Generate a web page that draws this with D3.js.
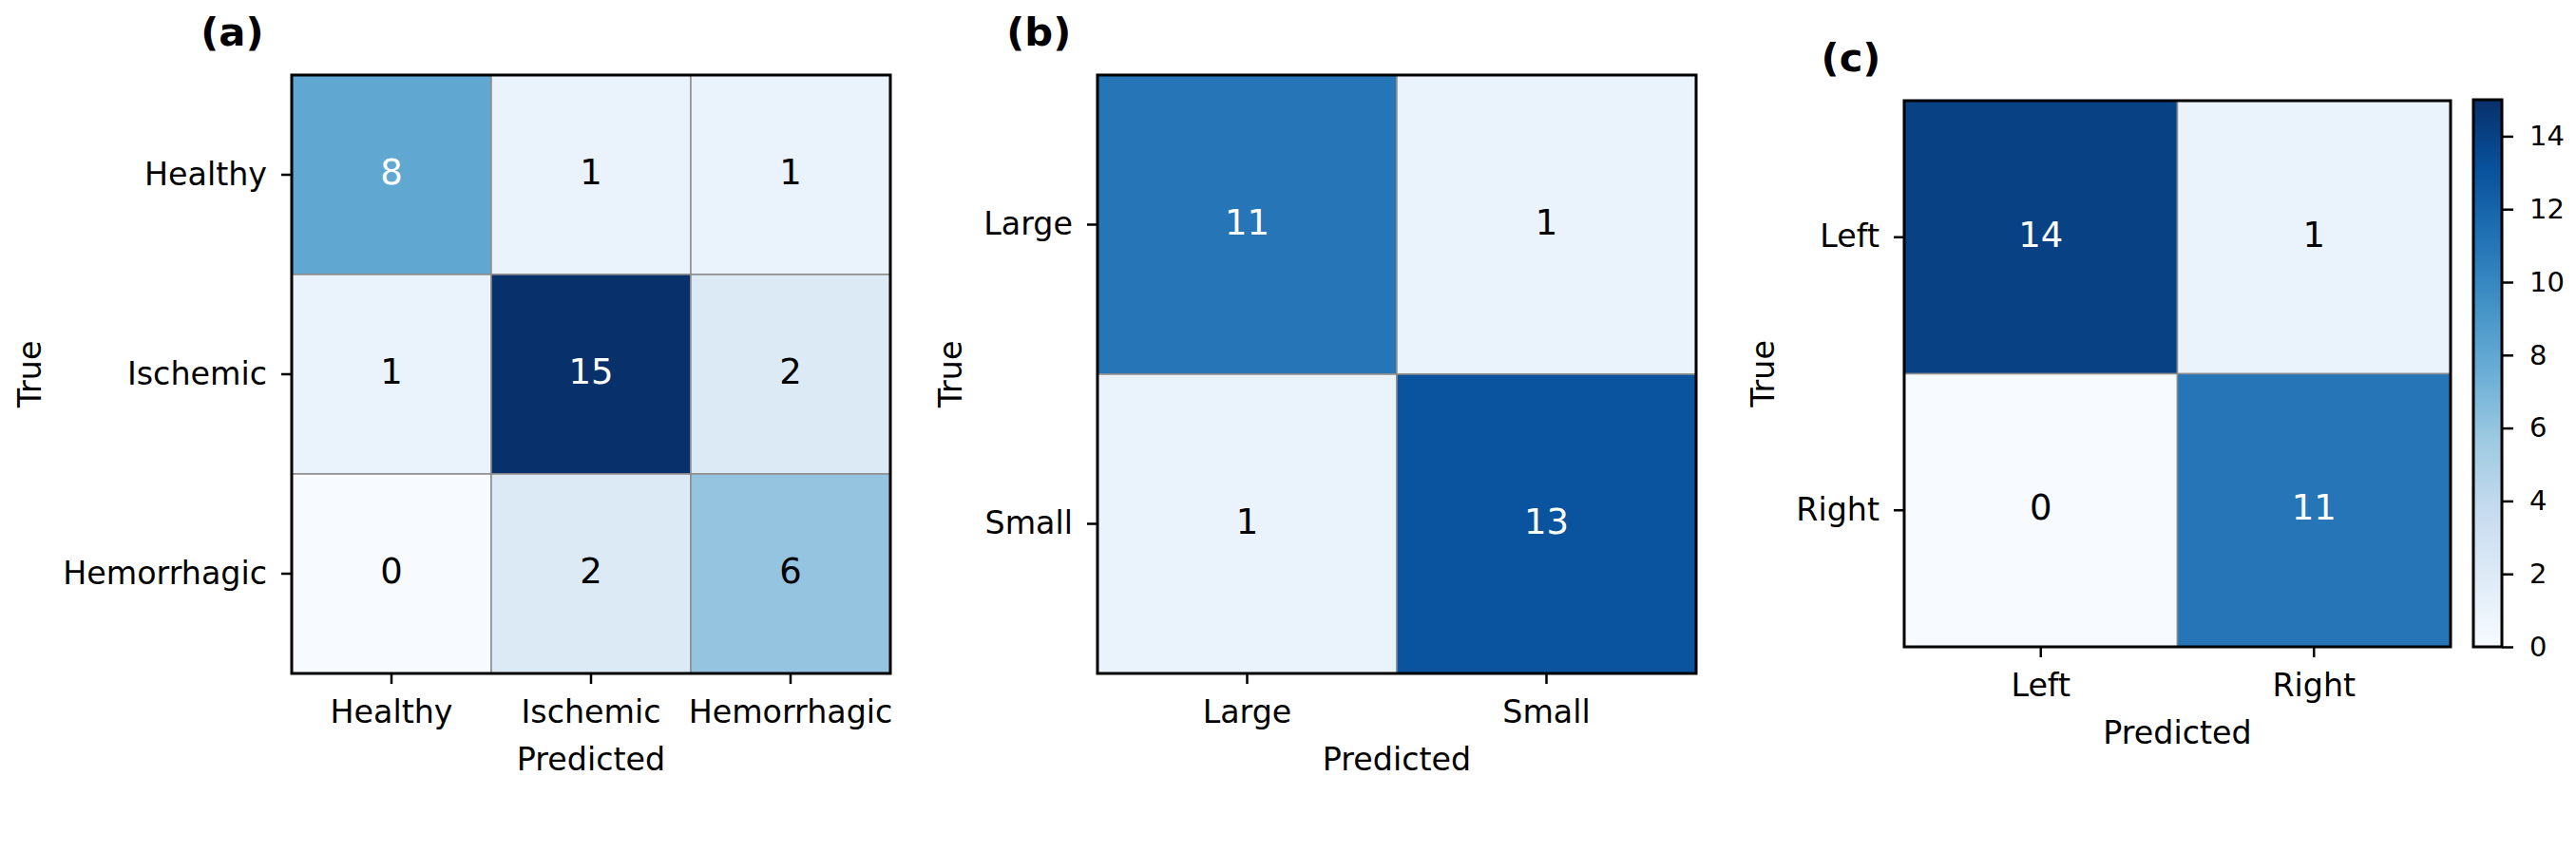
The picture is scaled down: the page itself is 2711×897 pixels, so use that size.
<!DOCTYPE html>
<html lang="en">
<head>
    <meta charset="UTF-8">
    <title>Confusion matrices</title>
    <style>
        body, html {
            margin: 0;
            padding: 0;
            background-color: #ffffff;
        }
        svg {
            display: block;
            font-family: "DejaVu Sans", sans-serif;
        }
    </style>
</head>
<body>
    <script src="https://d3js.org/d3.v7.min.js"></script>
    <script>
        // Data
        var titles = ["(a)", "(b)", "(c)"];

        var labelsA = ["Healthy", "Ischemic", "Hemorrhagic"];
        var matrixA = [[8, 1, 1],
                       [1, 15, 2],
                       [0, 2, 6]];

        var labelsB = ["Large", "Small"];
        var matrixB = [[11, 1],
                       [1, 13]];

        var labelsC = ["Left", "Right"];
        var matrixC = [[14, 1],
                       [0, 11]];

        var colorbarTicks = [0, 2, 4, 6, 8, 10, 12, 14];
        var vmin = 0, vmax = 15;

        // matplotlib "Blues" stops
        var bluesStops = ["#f7fbff", "#deebf7", "#c6dbef", "#9ecae1", "#6baed6",
                          "#4292c6", "#2171b5", "#08519c", "#08306b"];

        var width = 2711,
            height = 897;

        var svg = d3.select("body").append("svg")
            .attr("width", width)
            .attr("height", height);

        svg.append("rect")
            .attr("width", width)
            .attr("height", height)
            .attr("fill", "#ffffff");

        // colour scale, piecewise linear like matplotlib
        var color = d3.scaleLinear()
            .domain(bluesStops.map(function(d, i) { return vmin + (vmax - vmin) * i / (bluesStops.length - 1); }))
            .range(bluesStops)
            .interpolate(d3.interpolateRgb)
            .clamp(true);

        var threshold = (vmin + vmax) / 2;

        var panels = [
            { title: titles[0], labels: labelsA, matrix: matrixA, left: 307, top: 79, size: 630 },
            { title: titles[1], labels: labelsB, matrix: matrixB, left: 1155, top: 79, size: 630 },
            { title: titles[2], labels: labelsC, matrix: matrixC, left: 2004, top: 106, size: 575 }
        ];

        panels.forEach(function(p) {
            var g = svg.append("g")
                .attr("transform", "translate(" + p.left + "," + p.top + ")");

            var x = d3.scaleBand().domain(p.labels).range([0, p.size]);
            var y = d3.scaleBand().domain(p.labels).range([0, p.size]);

            var cells = [];
            p.matrix.forEach(function(row, i) {
                row.forEach(function(v, j) {
                    cells.push({ t: p.labels[i], pr: p.labels[j], v: v });
                });
            });

            g.selectAll("rect.cell")
                .data(cells)
                .enter()
                .append("rect")
                .attr("class", "cell")
                .attr("x", function(d) { return x(d.pr); })
                .attr("y", function(d) { return y(d.t); })
                .attr("width", x.bandwidth())
                .attr("height", y.bandwidth())
                .attr("fill", function(d) { return color(d.v); })
                .attr("stroke", "#8c8c8c")
                .attr("stroke-width", 1.5);

            g.selectAll("text.annot")
                .data(cells)
                .enter()
                .append("text")
                .attr("class", "annot")
                .attr("x", function(d) { return x(d.pr) + x.bandwidth() / 2; })
                .attr("y", function(d) { return y(d.t) + y.bandwidth() / 2 + 10; })
                .attr("text-anchor", "middle")
                .attr("font-size", 37)
                .attr("fill", function(d) { return d.v > threshold ? "#ffffff" : "#000000"; })
                .text(function(d) { return d.v; });

            // frame
            g.append("rect")
                .attr("width", p.size)
                .attr("height", p.size)
                .attr("fill", "none")
                .attr("stroke", "#000000")
                .attr("stroke-width", 3);

            // axes
            var xAxis = g.append("g")
                .attr("transform", "translate(0," + p.size + ")")
                .call(d3.axisBottom(x).tickSize(11).tickPadding(17));
            var yAxis = g.append("g")
                .call(d3.axisLeft(y).tickSize(11).tickPadding(15));

            [xAxis, yAxis].forEach(function(ax) {
                ax.select(".domain").remove();
                ax.selectAll(".tick line").attr("stroke", "#000").attr("stroke-width", 2.5);
                ax.selectAll(".tick text")
                    .attr("font-size", 33.3)
                    .attr("font-family", "DejaVu Sans, sans-serif")
                    .attr("fill", "#000");
            });

            g.append("text")
                .attr("x", p.size / 2)
                .attr("y", p.size + 102)
                .attr("text-anchor", "middle")
                .attr("font-size", 33.3)
                .text("Predicted");

            // ylabel placed left of the widest tick label
            var minX = 0;
            yAxis.selectAll(".tick text").each(function() {
                var b = this.getBBox();
                minX = Math.min(minX, b.x);
            });
            g.append("text")
                .attr("transform", "translate(" + (minX - 23) + "," + (p.size / 2) + ") rotate(-90)")
                .attr("text-anchor", "middle")
                .attr("font-size", 33.3)
                .text("True");

            g.append("text")
                .attr("x", -0.152 * p.size)
                .attr("y", -31)
                .attr("font-size", 41.7)
                .attr("font-weight", "bold")
                .text(p.title);
        });

        // colorbar
        var cb = { left: 2603, top: 105, width: 30, bottom: 681 };

        var grad = svg.append("defs").append("linearGradient")
            .attr("id", "blues")
            .attr("x1", 0).attr("y1", 1)
            .attr("x2", 0).attr("y2", 0);
        grad.selectAll("stop")
            .data(bluesStops)
            .enter()
            .append("stop")
            .attr("offset", function(d, i) { return i / (bluesStops.length - 1); })
            .attr("stop-color", function(d) { return d; });

        svg.append("rect")
            .attr("x", cb.left)
            .attr("y", cb.top)
            .attr("width", cb.width)
            .attr("height", cb.bottom - cb.top)
            .attr("fill", "url(#blues)")
            .attr("stroke", "#000")
            .attr("stroke-width", 3);

        var cbScale = d3.scaleLinear().domain([vmin, vmax]).range([cb.bottom, cb.top]);
        var cbAxis = svg.append("g")
            .attr("transform", "translate(" + (cb.left + cb.width) + ",0)")
            .call(d3.axisRight(cbScale).tickValues(colorbarTicks).tickSize(12).tickPadding(17));
        cbAxis.select(".domain").remove();
        cbAxis.selectAll(".tick line").attr("stroke", "#000").attr("stroke-width", 2.5);
        cbAxis.selectAll(".tick text")
            .attr("font-size", 29)
            .attr("font-family", "DejaVu Sans, sans-serif")
            .attr("fill", "#000");
    </script>
</body>
</html>
